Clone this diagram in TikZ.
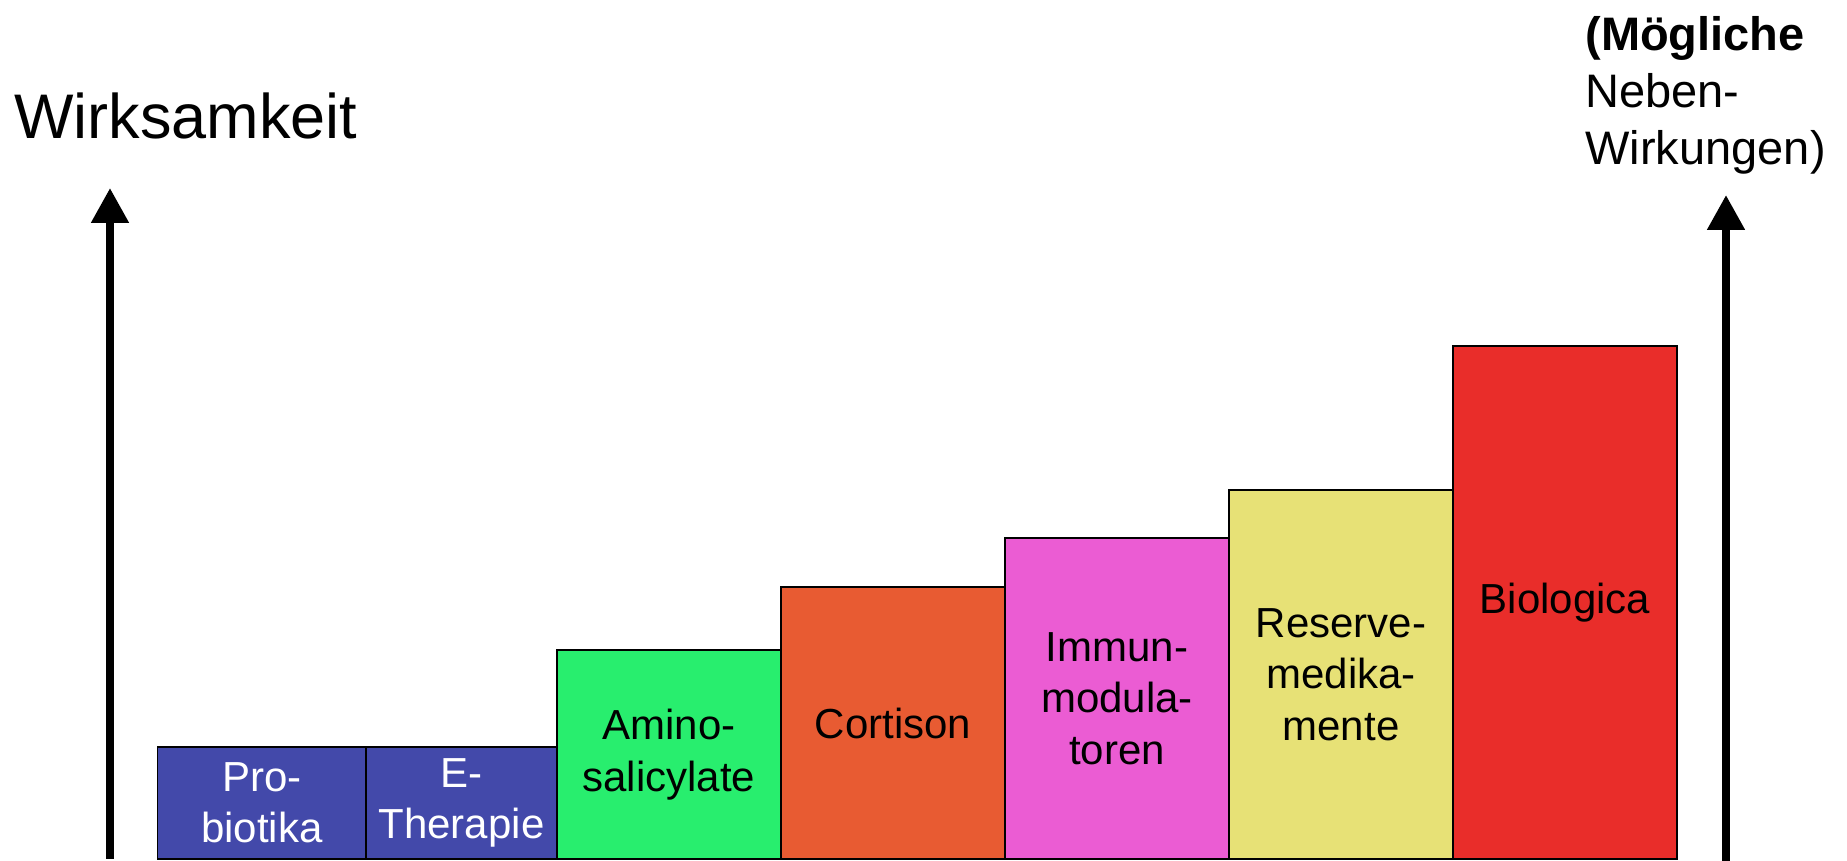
\documentclass[tikz,border=0pt]{standalone}
\usepackage{fontspec}
\setmainfont{Liberation Sans}
\usetikzlibrary{arrows.meta,positioning}
\definecolor{WKblue}{HTML}{4349AA}
\definecolor{WKgreen}{HTML}{28EE6E}
\definecolor{WKorange}{HTML}{E85B32}
\definecolor{WKpink}{HTML}{EB5CD3}
\definecolor{WKyellow}{HTML}{E7E176}
\definecolor{WKred}{HTML}{E92D2A}
\tikzset{wkbar/.style={draw=black,line width=0.75pt,align=center,inner sep=0pt,outer sep=0pt,
 anchor=south west,minimum width=112pt,font=\fontsize{21}{25.7}\selectfont},
 wkarr/.style={-{Triangle[width=18pt,length=17.5pt]},line width=4pt}}

\begin{document}
\begin{tikzpicture}[x=0.5pt,y=0.5pt]
\useasboundingbox (0,0) rectangle (1847,861);
% steps, lowest first
\node[wkbar,fill=WKblue,text=white,minimum width=104.25pt,minimum height=56pt] (probio) at (157.5,2) {Pro-\\biotika};
\node[wkbar,fill=WKblue,text=white,minimum width=95.5pt,minimum height=56pt] (etherap) at (probio.south east) {E-\\Therapie};
\node[wkbar,fill=WKgreen,minimum height=104.5pt] (amino) at (etherap.south east) {Amino-\\salicylate};
\node[wkbar,fill=WKorange,minimum height=136pt] (cortison) at (amino.south east) {Cortison};
\node[wkbar,fill=WKpink,minimum height=160.5pt] (immun) at (cortison.south east) {Immun-\\modula-\\toren};
\node[wkbar,fill=WKyellow,minimum height=184.5pt] (reserve) at (immun.south east) {Reserve-\\medika-\\mente};
\node[wkbar,fill=WKred,minimum height=256.5pt] (bio) at (reserve.south east) {Biologica};
% axes
\coordinate (effbot) at (110,2);
\coordinate (efftop) at (110,673);
\coordinate (sidebot) at (1726,0);
\coordinate (sidetop) at (1726,666);
\draw[wkarr] (effbot)--(efftop);
\draw[wkarr] (sidebot)--(sidetop);
\node[anchor=base west,inner sep=0pt,font=\fontsize{31.5}{38}\selectfont] (effect) at (14,722) {Wirksamkeit};
\node[anchor=base west,inner sep=0pt,align=left,font=\fontsize{23.5}{28.5}\selectfont] (sideeff) at (1585,696)
 {{\bfseries (Mögliche}\\Neben-\\Wirkungen)};
\end{tikzpicture}
\end{document}
